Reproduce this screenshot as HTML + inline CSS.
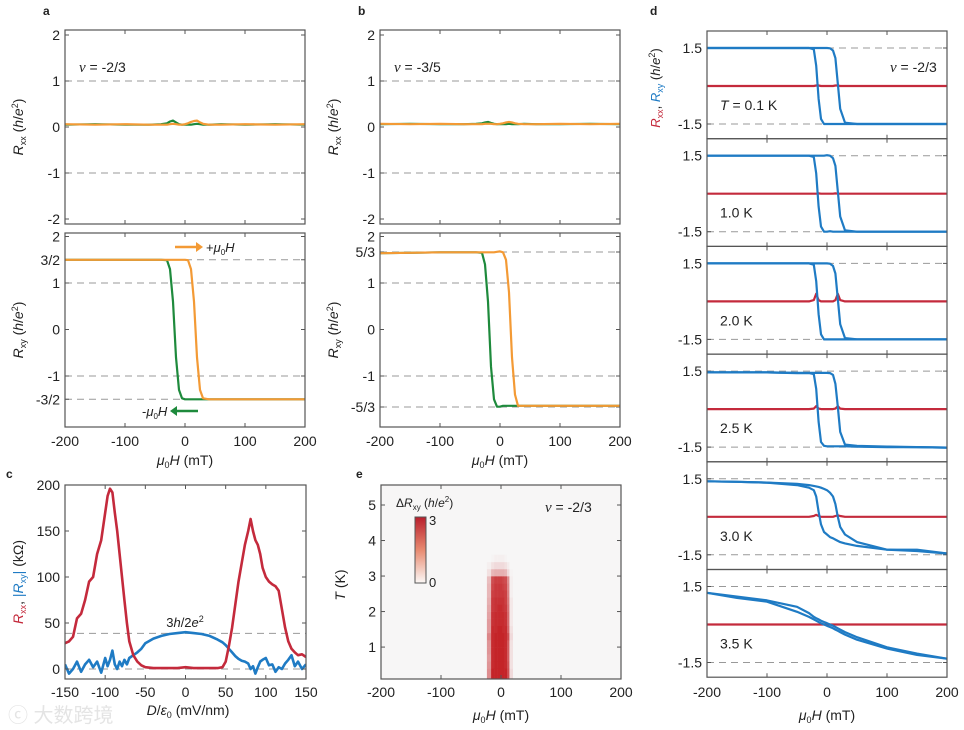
<!DOCTYPE html>
<html><head><meta charset="utf-8"><style>
body{margin:0;background:#fff;}
svg{display:block;font-family:"Liberation Sans",sans-serif;}
text{fill:#222;}
</style></head><body>
<svg id="fig" width="964" height="730" viewBox="0 0 964 730" xmlns="http://www.w3.org/2000/svg"></svg>
<script>
// ---------- DATA ----------
const abH = [-200,-150,-100,-60,-40,-30,-25,-20,-15,-10,-5,0,5,10,15,20,25,30,40,60,100,150,200];
const aRxyDown = [1.5,1.5,1.5,1.5,1.5,1.49,1.3,0.6,-0.6,-1.3,-1.48,-1.5,-1.5,-1.5,-1.5,-1.5,-1.5,-1.5,-1.5,-1.5,-1.5,-1.5,-1.5];
const aRxyUp   = [1.5,1.5,1.5,1.5,1.5,1.5,1.5,1.5,1.5,1.5,1.5,1.5,1.49,1.3,0.6,-0.6,-1.3,-1.48,-1.5,-1.5,-1.5,-1.5,-1.5];
const aRxxDown = [0.05,0.06,0.05,0.05,0.06,0.08,0.12,0.14,0.1,0.06,0.05,0.05,0.05,0.05,0.06,0.07,0.06,0.05,0.05,0.06,0.05,0.06,0.05];
const aRxxUp   = [0.06,0.05,0.06,0.05,0.05,0.05,0.06,0.07,0.06,0.05,0.05,0.06,0.08,0.11,0.13,0.14,0.1,0.07,0.05,0.05,0.06,0.05,0.06];
const bRxyDown = [1.64,1.65,1.66,1.66,1.66,1.65,1.4,0.6,-0.8,-1.5,-1.66,-1.66,-1.64,-1.64,-1.64,-1.64,-1.64,-1.64,-1.64,-1.64,-1.64,-1.64,-1.64];
const bRxyUp   = [1.64,1.65,1.66,1.66,1.66,1.66,1.66,1.66,1.66,1.66,1.67,1.68,1.66,1.5,0.8,-0.6,-1.4,-1.64,-1.64,-1.64,-1.64,-1.64,-1.64];
const bRxxDown = [0.06,0.07,0.06,0.06,0.07,0.08,0.1,0.11,0.09,0.07,0.06,0.06,0.06,0.06,0.07,0.06,0.06,0.06,0.07,0.06,0.06,0.07,0.06];
const bRxxUp   = [0.07,0.06,0.07,0.06,0.06,0.06,0.07,0.07,0.07,0.06,0.06,0.07,0.08,0.1,0.11,0.1,0.08,0.07,0.06,0.06,0.07,0.06,0.07];

const cD = [-150,-145,-140,-135,-130,-125,-120,-115,-110,-105,-100,-97,-94,-91,-88,-85,-82,-79,-76,-73,-70,-65,-60,-55,-50,-40,-30,-20,-10,0,10,20,30,40,46,50,54,58,62,66,70,74,78,81,84,87,90,93,96,100,104,108,112,116,120,124,128,132,136,140,145,150];
const cRxx = [28,30,35,55,60,75,95,100,125,140,170,188,196,192,170,150,125,100,75,50,30,15,8,4,2,1,1,1,1,2,1,1,1,1,2,8,25,45,70,95,115,135,150,163,150,140,135,125,110,100,95,92,90,85,65,45,30,22,18,15,16,13];
const cRxy = [5,-5,0,8,-3,5,10,2,8,-4,12,3,10,20,5,0,8,3,10,5,12,15,18,22,28,33,36,38,39,40,39,38,36,32,29,26,22,18,14,11,9,8,6,0,3,-5,2,8,10,12,4,5,-3,2,0,6,10,15,3,8,0,5];
const cDashed = [38.7, 0];

const dT = ["T = 0.1 K","1.0 K","2.0 K","2.5 K","3.0 K","3.5 K"];
const dH = [-200,-150,-100,-50,-30,-22,-18,-14,-10,-5,0,5,10,14,18,22,30,50,100,150,200];
const dDown = [
 [1.5,1.5,1.5,1.5,1.5,1.45,0.8,-0.5,-1.3,-1.5,-1.5,-1.5,-1.5,-1.5,-1.5,-1.5,-1.5,-1.5,-1.5,-1.5,-1.5],
 [1.5,1.5,1.5,1.5,1.5,1.45,0.8,-0.5,-1.3,-1.5,-1.5,-1.48,-1.5,-1.5,-1.5,-1.5,-1.5,-1.5,-1.5,-1.5,-1.5],
 [1.5,1.5,1.5,1.5,1.5,1.45,0.8,-0.5,-1.3,-1.5,-1.5,-1.5,-1.5,-1.5,-1.5,-1.5,-1.5,-1.5,-1.5,-1.5,-1.5],
 [1.45,1.45,1.45,1.42,1.42,1.38,0.8,-0.5,-1.3,-1.45,-1.47,-1.47,-1.47,-1.47,-1.47,-1.47,-1.47,-1.48,-1.5,-1.5,-1.52],
 [1.4,1.38,1.35,1.25,1.15,1.05,0.8,0.2,-0.3,-0.6,-0.7,-0.8,-0.85,-0.9,-0.95,-1.0,-1.05,-1.15,-1.3,-1.35,-1.45],
 [1.25,1.05,0.9,0.5,0.3,0.2,0.15,0.1,0.05,0.0,-0.05,-0.1,-0.15,-0.2,-0.25,-0.3,-0.4,-0.6,-0.95,-1.2,-1.35]];
const dUp = [
 [1.5,1.5,1.5,1.5,1.5,1.5,1.5,1.5,1.5,1.5,1.5,1.49,1.4,1.1,0.1,-0.9,-1.45,-1.5,-1.5,-1.5,-1.5],
 [1.5,1.5,1.5,1.5,1.5,1.5,1.5,1.5,1.5,1.5,1.52,1.5,1.4,1.1,0.1,-0.9,-1.45,-1.5,-1.5,-1.5,-1.5],
 [1.5,1.5,1.5,1.5,1.5,1.5,1.5,1.5,1.5,1.5,1.5,1.49,1.4,1.1,0.1,-0.9,-1.45,-1.5,-1.5,-1.5,-1.5],
 [1.45,1.45,1.45,1.43,1.43,1.43,1.43,1.43,1.43,1.43,1.43,1.42,1.35,1.0,0.1,-0.9,-1.4,-1.45,-1.48,-1.5,-1.52],
 [1.4,1.38,1.35,1.3,1.25,1.22,1.2,1.18,1.15,1.1,1.05,0.95,0.8,0.5,0.0,-0.4,-0.7,-1.0,-1.3,-1.3,-1.45],
 [1.25,1.1,0.95,0.7,0.45,0.3,0.25,0.2,0.15,0.1,0.05,0.0,-0.05,-0.1,-0.15,-0.2,-0.3,-0.5,-0.9,-1.15,-1.35]];
const dRxx = [
 [0,0,0,0,0,0,0.02,0.02,0,0,0,0,0,0.02,0.02,0,0,0,0,0,0],
 [0,0,0,0,0,0,0,0.01,0,0,0,0,0,0.01,0,0,0,0,0,0,0],
 [0,0,0,0,0,0.05,0.3,0.05,0,0,0,0,0,0.05,0.3,0.05,0,0,0,0,0],
 [0,0,0,0,0,0.02,0.12,0.02,0,0,0,0,0,0.02,0.12,0.02,0,0,0,0,0],
 [0,0,0,0,0,0.03,0.08,0.03,0,0,0,0,0,0.03,0.06,0.03,0,0,0,0,0],
 [0,0,0,0,0,0,0,0,0,0,0,0,0,0,0,0,0,0,0,0,0]];

const eTrows = [0.1,0.3,0.5,0.7,0.9,1.1,1.3,1.5,1.7,1.9,2.1,2.3,2.5,2.7,2.9,3.1,3.3,3.5];
const eHcols = [-28,-19,-14,-9,-4,0,4,8,12,16,24];
const eVals = [
 [0,1.5,3,3,3,3,3,3,2.4,0.4,0],[0,1.5,3,3,3,3,3,3,2.4,0.4,0],[0,1.4,2.9,3,3,3,3,2.9,2.3,0.3,0],
 [0,1.3,2.9,3,3,3,3,2.9,2.2,0.3,0],[0,1.4,2.9,3,3,3,3,2.9,2.2,0.3,0],[0,1.4,2.9,3,3,3,3,2.9,2.2,0.3,0],
 [0,1.6,2.9,3,3,3,3,2.9,2.4,0.4,0],[0,1.3,2.9,2.9,3,3,2.9,2.9,2.1,0.3,0],[0,1.3,2.8,2.9,2.9,2.9,2.9,2.8,2.0,0.2,0],
 [0,1.2,2.8,2.9,2.9,2.9,2.9,2.8,2.0,0.2,0],[0,1.1,2.7,2.8,2.9,2.9,2.8,2.7,1.9,0.2,0],[0,1.0,2.7,2.8,2.8,2.8,2.8,2.6,1.8,0.2,0],
 [0,0.9,2.6,2.7,2.7,2.7,2.7,2.6,1.7,0.1,0],[0,0.9,2.5,2.7,2.7,2.7,2.6,2.5,1.6,0.1,0],[0,0.8,2.4,2.6,2.6,2.6,2.5,2.4,1.5,0.1,0],
 [0,0.3,0.9,1.0,1.0,1.0,1.0,0.9,0.4,0.05,0],[0,0.1,0.3,0.4,0.4,0.4,0.4,0.3,0.15,0,0],[0,0,0.05,0.1,0.1,0.1,0.1,0.05,0,0,0]];

// ---------- DRAWING ----------
const NS="http://www.w3.org/2000/svg";
const svg=document.getElementById('fig');
function mk(tag,attrs,parent){const e=document.createElementNS(NS,tag);for(const k in attrs)e.setAttribute(k,attrs[k]);(parent||svg).appendChild(e);return e;}
function txt(x,y,s,attrs,name){const t=mk('text',Object.assign({x:x,y:y,'font-size':13},attrs||{}));t.innerHTML=s;
 
 return t;}
function scale(d0,d1,r0,r1){return v=>r0+(v-d0)*(r1-r0)/(d1-d0);}
function line(xs,ys,sx,sy,color,w,name){let d='';xs.forEach((x,i)=>{d+=(i?'L':'M')+sx(x).toFixed(1)+' '+sy(ys[i]).toFixed(1);});
 const p=mk('path',{d:d,fill:'none',stroke:color,'stroke-width':w||2.2,'stroke-linejoin':'round'});
 
 return p;}
function box(x0,y0,x1,y1,name){const r=mk('rect',{x:x0,y:y0,width:x1-x0,height:y1-y0,fill:'none',stroke:'#555','stroke-width':1.2});
 
 }
function dash(x0,x1,y,name){const l=mk('line',{x1:x0,x2:x1,y1:y,y2:y,stroke:'#999','stroke-width':1,'stroke-dasharray':'7,5'});
 
 }
function ticksX(sx,y0,y1,vals,labels,labY,name){vals.forEach((v,i)=>{mk('line',{x1:sx(v),x2:sx(v),y1:y1,y2:y1-4,stroke:'#555'});mk('line',{x1:sx(v),x2:sx(v),y1:y0,y2:y0+4,stroke:'#555'});
 if(labels)txt(sx(v),labY,labels[i],{'text-anchor':'middle','font-size':14},name);});}
function ticksY(sy,x0,x1,vals,labels,name){vals.forEach((v,i)=>{mk('line',{x1:x0,x2:x0+4,y1:sy(v),y2:sy(v),stroke:'#555'});mk('line',{x1:x1,x2:x1-4,y1:sy(v),y2:sy(v),stroke:'#555'});
 if(labels)txt(x0-5,sy(v)+5,labels[i],{'text-anchor':'end','font-size':14},name);});}
const GREEN='#1e8a3c',ORANGE='#f39a35',RED='#c42a3c',BLUE='#1f7bc4';
const hTicks=[-200,-100,0,100,200], hLabels=['-200','-100','0','100','200'];

function panelAB(x0,x1,letter,nuLabel,fracV,fracL,rxxD,rxxU,rxyD,rxyU,pre){
 const sx=scale(-200,200,x0,x1);
 const syT=scale(0,1,127,81), syB=scale(0,1,329.5,283);
 txt(x0-22,15,letter,{'font-weight':'bold','font-size':12},pre+'-panel-letter');
 dash(x0,x1,syT(1));dash(x0,x1,syT(-1));
 ticksX(sx,30,224,hTicks,null,0);
 ticksY(syT,x0,x1,[2,1,0,-1,-2],['2','1','0','-1','-2'],pre+'-rxx-tick');
 line(abH,rxxD,sx,syT,GREEN,2.2,pre+'-rxx-down');
 line(abH,rxxU,sx,syT,ORANGE,2.2,pre+'-rxx-up');
 box(x0,30,x1,224,pre+'-rxx-axes');
 txt(x0+14,72,'<tspan font-family="Liberation Serif" font-style="italic" font-size="15">ν</tspan> = '+nuLabel,{'font-size':14},pre+'-filling-label');
 txt(0,0,'<tspan font-style="italic">R</tspan><tspan font-size="9" dy="3">xx</tspan><tspan dy="-3"> (</tspan><tspan font-style="italic">h</tspan>/<tspan font-style="italic">e</tspan><tspan font-size="9" dy="-5">2</tspan><tspan dy="5">)</tspan>',{transform:`translate(${x0-42},127) rotate(-90)`,'text-anchor':'middle','font-size':14},pre+'-rxx-ylabel');
 [fracV,1,-1,-fracV].forEach(v=>dash(x0,x1,syB(v)));
 ticksX(sx,233,427,hTicks,hLabels,446,pre+'-x-tick');
 ticksY(syB,x0,x1,[2,fracV,1,0,-1,-fracV],['2',fracL,'1','0','-1','-'+fracL],pre+'-rxy-tick');
 line(abH,rxyD,sx,syB,GREEN,2.2,pre+'-rxy-down');
 line(abH,rxyU,sx,syB,ORANGE,2.2,pre+'-rxy-up');
 box(x0,233,x1,427,pre+'-rxy-axes');
 txt(0,0,'<tspan font-style="italic">R</tspan><tspan font-size="9" dy="3">xy</tspan><tspan dy="-3"> (</tspan><tspan font-style="italic">h</tspan>/<tspan font-style="italic">e</tspan><tspan font-size="9" dy="-5">2</tspan><tspan dy="5">)</tspan>',{transform:`translate(${x0-42},330) rotate(-90)`,'text-anchor':'middle','font-size':14},pre+'-rxy-ylabel');
 txt((x0+x1)/2,465,'<tspan font-style="italic">μ</tspan><tspan font-size="9" dy="3">0</tspan><tspan dy="-3" font-style="italic">H</tspan> (mT)',{'text-anchor':'middle','font-size':14},pre+'-x-label');
}
panelAB(65,305,'a','-2/3',1.5,'3/2',aRxxDown,aRxxUp,aRxyDown,aRxyUp,'a');
panelAB(380,620,'b','-3/5',5/3,'5/3',bRxxDown,bRxxUp,bRxyDown,bRxyUp,'b');
mk('line',{x1:175,x2:196,y1:247,y2:247,stroke:ORANGE,'stroke-width':2.5});
mk('path',{d:'M196 242 L203 247 L196 252 Z',fill:ORANGE});
txt(206,252,'+<tspan font-style="italic">μ</tspan><tspan font-size="8" dy="3">0</tspan><tspan dy="-3" font-style="italic">H</tspan>',{'font-size':13},'sweep-up-label');
mk('line',{x1:177,x2:198,y1:411,y2:411,stroke:GREEN,'stroke-width':2.5});
mk('path',{d:'M177 406 L170 411 L177 416 Z',fill:GREEN});
txt(142,416,'-<tspan font-style="italic">μ</tspan><tspan font-size="8" dy="3">0</tspan><tspan dy="-3" font-style="italic">H</tspan>',{'font-size':13},'sweep-down-label');

(function(){
 const x0=65,x1=306,sx=scale(-150,150,x0,x1),sy=scale(0,200,669,485);
 txt(6,478,'c',{'font-weight':'bold','font-size':12},'c-panel-letter');
 cDashed.forEach(v=>dash(x0,x1,sy(v)));
 const cl=mk('clipPath',{id:'cc'});mk('rect',{x:x0,y:485,width:x1-x0,height:194},cl);
 const g=mk('g',{'clip-path':'url(#cc)'});
 const p1=line(cD,cRxy,sx,sy,BLUE,2.6,'c-rxy-curve');g.appendChild(p1);
 const p2=line(cD,cRxx,sx,sy,RED,2.6,'c-rxx-curve');g.appendChild(p2);
 ticksX(sx,485,679,[-150,-100,-50,0,50,100,150],['-150','-100','-50','0','50','100','150'],697,'c-x-tick');
 ticksY(sy,x0,x1,[0,50,100,150,200],['0','50','100','150','200'],'c-y-tick');
 box(x0,485,x1,679,'c-axes');
 txt(185,627,'3<tspan font-style="italic">h</tspan>/2<tspan font-style="italic">e</tspan><tspan font-size="9" dy="-5">2</tspan>',{'text-anchor':'middle','font-size':13},'c-quantum-label');
 txt(0,0,'<tspan fill="'+RED+'" font-style="italic">R</tspan><tspan fill="'+RED+'" font-size="9" dy="3">xx</tspan><tspan dy="-3">, </tspan><tspan fill="'+BLUE+'">|</tspan><tspan fill="'+BLUE+'" font-style="italic">R</tspan><tspan fill="'+BLUE+'" font-size="9" dy="3">xy</tspan><tspan fill="'+BLUE+'" dy="-3">|</tspan> (kΩ)',{transform:'translate(23,582) rotate(-90)','text-anchor':'middle','font-size':14},'c-y-label');
 txt(188,715,'<tspan font-style="italic">D</tspan>/<tspan font-style="italic">ε</tspan><tspan font-size="9" dy="3">0</tspan><tspan dy="-3"> (mV/nm)</tspan>',{'text-anchor':'middle','font-size':14},'c-x-label');
})();
txt(8,722,'ⓒ 大数跨境',{'font-size':20,fill:'#e4e4e4',style:'fill:#e4e4e4','font-family':'Liberation Sans, Noto Sans CJK SC, sans-serif'},'watermark');

(function(){
 const x0=381,x1=621,sx=scale(-200,200,x0,x1),sy=scale(0,5,682.6,505);
 txt(356,478,'e',{'font-weight':'bold','font-size':12},'e-panel-letter');
 mk('rect',{x:x0,y:485,width:x1-x0,height:194,fill:'#f7f6f6'});
 const cl=mk('clipPath',{id:'ec'});mk('rect',{x:x0,y:485,width:x1-x0,height:194},cl);
 const g=mk('g',{'clip-path':'url(#ec)'});
 function col(v){const f=Math.max(0,Math.min(1,v/3));const r=Math.round(247+(196-247)*f),gg=Math.round(246+(36-246)*f),b=Math.round(246+(40-246)*f);return `rgb(${r},${gg},${b})`;}
 eTrows.forEach((T,i)=>{eHcols.forEach((H,j)=>{
   const hl=j?(eHcols[j-1]+H)/2:H-5, hr=j<eHcols.length-1?(H+eHcols[j+1])/2:H+5;
   const r=mk('rect',{x:sx(hl),y:sy(T+0.1),width:sx(hr)-sx(hl)+0.3,height:sy(T-0.1)-sy(T+0.1)+0.3,fill:col(eVals[i][j])},g);
   
   
 });});
 ticksX(sx,485,679,hTicks,hLabels,697,'e-x-tick');
 ticksY(sy,x0,x1,[1,2,3,4,5],['1','2','3','4','5'],'e-y-tick');
 box(x0,485,x1,679,'e-axes');
 const lg=mk('linearGradient',{id:'cb',x1:0,y1:1,x2:0,y2:0});
 mk('stop',{offset:0,'stop-color':'#fbf8f6'},lg);mk('stop',{offset:0.5,'stop-color':'#e88a70'},lg);mk('stop',{offset:1,'stop-color':'#b81e2c'},lg);
 const cb=mk('rect',{x:415,y:517,width:11,height:66,fill:'url(#cb)',stroke:'#555','stroke-width':1});
 
 
 txt(429,525,'3',{'font-size':13},'colorbar-max');txt(429,587,'0',{'font-size':13},'colorbar-min');
 txt(396,507,'Δ<tspan font-style="italic">R</tspan><tspan font-size="8" dy="3">xy</tspan><tspan dy="-3"> (</tspan><tspan font-style="italic">h</tspan>/<tspan font-style="italic">e</tspan><tspan font-size="8" dy="-5">2</tspan><tspan dy="5">)</tspan>',{'font-size':12},'colorbar-title');
 txt(545,512,'<tspan font-family="Liberation Serif" font-style="italic" font-size="15">ν</tspan> = -2/3',{'font-size':14},'e-filling-label');
 txt(0,0,'<tspan font-style="italic">T</tspan> (K)',{transform:'translate(345,585) rotate(-90)','text-anchor':'middle','font-size':14},'e-y-label');
 txt(501,720,'<tspan font-style="italic">μ</tspan><tspan font-size="9" dy="3">0</tspan><tspan dy="-3" font-style="italic">H</tspan> (mT)',{'text-anchor':'middle','font-size':14},'e-x-label');
})();

(function(){
 const x0=707,x1=947,sx=scale(-200,200,x0,x1);
 txt(650,15,'d',{'font-weight':'bold','font-size':12},'d-panel-letter');
 const top0=31,step=107.7;
 dT.forEach((lab,k)=>{
  const t=top0+k*step,b=t+step;
  const sy=scale(0,1.5,t+55,t+17);
  dash(x0,x1,sy(1.5));dash(x0,x1,sy(-1.5));
  ticksX(sx,t,b,hTicks,k===5?hLabels:null,697,'d-x-tick');
  ticksY(sy,x0,x1,[1.5,-1.5],['1.5','-1.5'],'d-y-tick');
  line(dH,dRxx[k],sx,sy,RED,2.2,'d-rxx-'+k);
  line(dH,dDown[k],sx,sy,BLUE,2.2,'d-rxy-down-'+k);
  line(dH,dUp[k],sx,sy,BLUE,2.2,'d-rxy-up-'+k);
  box(x0,t,x1,b,'d-axes-'+k);
  txt(720,t+79,lab.replace('T =','<tspan font-style="italic">T</tspan> ='),{'font-size':14},'d-temp-label');
 });
 txt(890,72,'<tspan font-family="Liberation Serif" font-style="italic" font-size="15">ν</tspan> = -2/3',{'font-size':14},'d-filling-label');
 txt(0,0,'<tspan fill="'+RED+'" font-style="italic">R</tspan><tspan fill="'+RED+'" font-size="9" dy="3">xx</tspan><tspan dy="-3">, </tspan><tspan fill="'+BLUE+'" font-style="italic">R</tspan><tspan fill="'+BLUE+'" font-size="9" dy="3">xy</tspan><tspan dy="-3"> (</tspan><tspan font-style="italic">h</tspan>/<tspan font-style="italic">e</tspan><tspan font-size="9" dy="-5">2</tspan><tspan dy="5">)</tspan>',{transform:'translate(660,88) rotate(-90)','text-anchor':'middle','font-size':13},'d-y-label');
 txt(827,720,'<tspan font-style="italic">μ</tspan><tspan font-size="9" dy="3">0</tspan><tspan dy="-3" font-style="italic">H</tspan> (mT)',{'text-anchor':'middle','font-size':14},'d-x-label');
})();
</script>
</body></html>
